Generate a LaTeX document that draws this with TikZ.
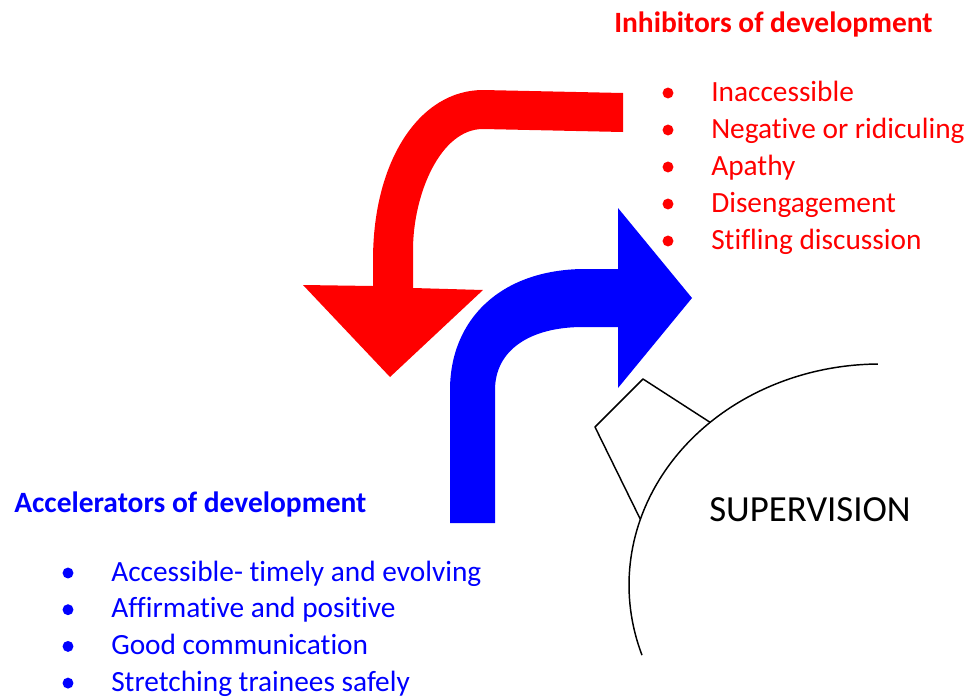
\documentclass[tikz,border=0pt]{standalone}
\usepackage{fontspec}
\setmainfont{Carlito}[Ligatures=NoCommon]
\begin{document}
\begin{tikzpicture}[x=0.75pt, y=-0.75pt, line join=round,
  txt/.style={anchor=base west, inner sep=0pt, font=\fontsize{22}{26}\selectfont},
  head/.style={txt, font=\fontsize{22.1}{26}\selectfont\bfseries},
  dot/.style={circle, fill, inner sep=0pt, minimum size=8.2pt}]
\useasboundingbox (0,0) rectangle (972,697);
% red arrow, turning down
\fill[red] (623,93) -- (483,90) .. controls (420,90) and (373,160) .. (373,260)
  -- (373,286) -- (303,285) -- (390,377) -- (483,290) -- (413,288) -- (413,250)
  .. controls (413,195) and (440,129) .. (483,129) -- (623,132) -- cycle;
% blue arrow, turning right
\fill[blue] (450,523) -- (450,390) .. controls (450,320) and (500,270) .. (583,269)
  -- (618,269) -- (618,208) -- (692,298) -- (618,388) -- (618,327) -- (583,327)
  .. controls (530,327) and (495,350) .. (495,390) -- (495,523) -- cycle;
% supervision
\coordinate (E) at (880,585);
\draw[line width=1.1pt] ([shift={(-90.5:251 and 221)}]E) arc (-90.5:-198.5:251 and 221);
\path ([shift={(-132.6:251 and 221)}]E)coordinate(K1)
  ([shift={(-162.7:251 and 221)}]E)coordinate(K2);
\draw[line width=1.1pt] (K2) -- (595,427)coordinate(K3) -- (643,379)coordinate(K4) -- (K1);
\node[txt, font=\fontsize{27.6}{32}\selectfont] (sup) at (709,521) {SUPERVISION};
% inhibitors
\node[head, red] (inh) at (614,32) {Inhibitors of development};
\foreach \t [count=\i from 0] in {Inaccessible, Negative or ridiculing, Apathy,
  Disengagement, Stifling discussion}{
  \node[dot, red] (rb\i) at (668,{93+37*\i}) {};
  \node[txt, red] (rt\i) at (711,{101+37*\i}) {\t};
}
% accelerators
\node[head, blue] (acc) at (14,512) {Accelerators of development};
\foreach \t [count=\i from 0] in {Accessible- timely and evolving,
  Affirmative and positive, Good communication, Stretching trainees safely}{
  \node[dot, blue] (bb\i) at (68,{573+36.7*\i}) {};
  \node[txt, blue] (bt\i) at (111,{581+36.7*\i}) {\t};
}
\end{tikzpicture}
\end{document}
